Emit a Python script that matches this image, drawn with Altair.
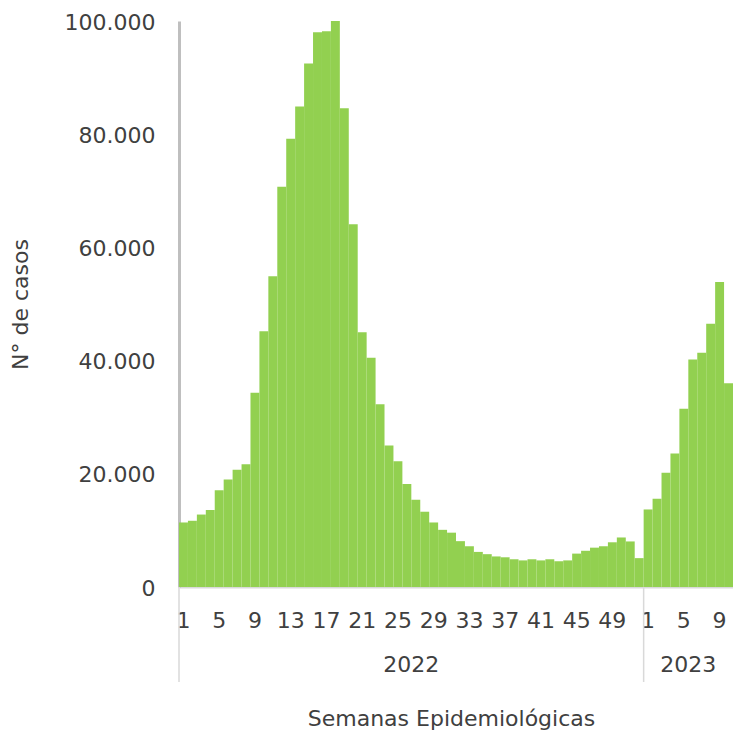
import altair as alt
import pandas as pd

# ---- data ----
weeks_2022 = list(range(1, 53))
cases_2022 = [11400, 11700, 12800, 13600, 17100, 19000, 20700, 21700, 34300, 45200,
              54900, 70700, 79200, 84900, 92500, 98000, 98200, 100300, 84600, 64100,
              45000, 40500, 32300, 25000, 22200, 18200, 15400, 13300, 11400, 10100,
              9600, 8100, 7200, 6200, 5800, 5400, 5250, 4900, 4700, 4900,
              4700, 4900, 4550, 4700, 5900, 6400, 6950, 7200, 7900, 8750,
              8050, 5100]
weeks_2023 = list(range(1, 11))
cases_2023 = [13700, 15600, 20200, 23600, 31500, 40200, 41400, 46500, 53900, 36000]
years = ["2022", "2023"]
week_tick_labels = [1, 5, 9, 13, 17, 21, 25, 29, 33, 37, 41, 45, 49]
y_ticks = [0, 20000, 40000, 60000, 80000, 100000]

# ---- tables ----
series = {"2022": (weeks_2022, cases_2022), "2023": (weeks_2023, cases_2023)}
rows = []
for yr in years:
    wks, vals = series[yr]
    for w, v in zip(wks, vals):
        rows.append({"key": f"{yr}-{w}", "year": yr, "week": w, "casos": v})
df = pd.DataFrame(rows)
keys = list(df["key"])
label_keys = [k for k in keys if int(k.split("-")[1]) in week_tick_labels]

mid_rows, start_rows = [], []
for yr in years:
    wks, _ = series[yr]
    mid_rows.append({"year": yr, "key": f"{yr}-{len(wks) // 2 + 1}"})
    start_rows.append({"year": yr, "key": f"{yr}-{wks[0]}"})
mid_df = pd.DataFrame(mid_rows)
start_df = pd.DataFrame(start_rows)

FONT = "DejaVu Sans"
TXT = "#404040"
TOP = 13
W, H = 554, 566

xscale = alt.Scale(domain=keys, paddingInner=0, paddingOuter=0)
xaxis = alt.Axis(values=label_keys, labelExpr="slice(datum.value, 5)",
                 labelAngle=0, ticks=False, labelOverlap=False,
                 domainColor="#D9D9D9", domainWidth=2,
                 labelFont=FONT, labelFontSize=22, labelColor=TXT,
                 labelPadding=23,
                 title="Semanas Epidemiológicas", titleFont=FONT,
                 titleFontSize=22, titleFontWeight="normal",
                 titleColor=TXT, titleX=272, titleY=138,
                 titleAlign="center", titleBaseline="alphabetic")

bars = alt.Chart(df).mark_bar(color="#92D050", clip=True).encode(
    x=alt.X("key:O", scale=xscale, axis=xaxis),
    y=alt.Y("casos:Q", scale=alt.Scale(domain=[0, 100000], nice=False),
            axis=alt.Axis(values=y_ticks,
                          labelExpr="replace(format(datum.value, ','), ',', '.')",
                          grid=False, ticks=False,
                          domainColor="#BFBFBF", domainWidth=3,
                          labelFont=FONT, labelFontSize=22, labelColor=TXT,
                          labelPadding=24, labelOffset=1,
                          title="N° de casos", titleFont=FONT, titleFontSize=22,
                          titleFontWeight="normal", titleColor=TXT,
                          titleAngle=270, titleX=-159, titleY=283,
                          titleAlign="center", titleBaseline="middle")),
)

year_text = alt.Chart(mid_df).mark_text(
    font=FONT, fontSize=22, color=TXT, baseline="alphabetic", align="center"
).encode(
    x=alt.X("key:O", scale=xscale, bandPosition=0, axis=xaxis),
    y=alt.value(H + 85),
    text="year:N",
)

separators = alt.Chart(start_df).mark_rule(color="#D9D9D9", strokeWidth=1.5).encode(
    x=alt.X("key:O", scale=xscale, bandPosition=0, axis=xaxis),
    y=alt.value(H),
    y2=alt.value(H + 95),
)

chart = alt.layer(bars, separators, year_text).properties(
    width=W, height=H,
    autosize=alt.AutoSizeParams(type="none"),
    padding={"left": 171, "top": TOP, "right": 0, "bottom": 143},
).configure_view(stroke=None)

chart.save("out.html", embed_options={"renderer": "svg", "actions": False})
